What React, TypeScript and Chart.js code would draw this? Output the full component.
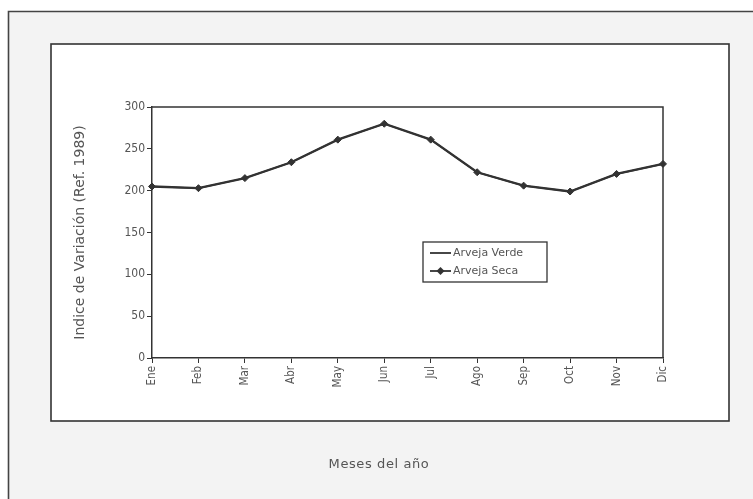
import React, { useEffect, useRef } from "react";
import { Chart, registerables } from "chart.js";

Chart.register(...registerables);

const months = ["Ene", "Feb", "Mar", "Abr", "May", "Jun", "Jul", "Ago", "Sep", "Oct", "Nov", "Dic"];
const arvejaVerde = [205, 203, 215, 234, 261, 280, 261, 222, 206, 199, 220, 232];
const arvejaSeca = [205, 203, 215, 234, 261, 280, 261, 222, 206, 199, 220, 232];
const yTicks = [0, 50, 100, 150, 200, 250, 300];
const xTitle = "Meses del año";
const yTitle = "Indice de Variación (Ref. 1989)";

const INK = "#333333";
const TEXT = "#555555";
const FONT = "'DejaVu Sans', sans-serif";
const FONT_C = "'DejaVu Sans Condensed', 'DejaVu Sans', sans-serif";

const framePlugin = {
  id: "frames",
  beforeDraw(chart: any) {
    const ctx = chart.ctx;
    const { width, height } = chart;
    ctx.save();
    ctx.fillStyle = "#ffffff";
    ctx.fillRect(0, 0, width, height);
    ctx.fillStyle = "#f3f3f3";
    ctx.fillRect(8, 11, width - 8, height - 11);
    ctx.strokeStyle = "#444444";
    ctx.lineWidth = 1.6;
    ctx.beginPath();
    ctx.moveTo(8.5, height);
    ctx.lineTo(8.5, 11.5);
    ctx.lineTo(width, 11.5);
    ctx.stroke();
    ctx.fillStyle = "#ffffff";
    ctx.fillRect(51, 44, 678, 377);
    ctx.strokeStyle = INK;
    ctx.lineWidth = 1.6;
    ctx.strokeRect(51, 44, 678, 377);
    ctx.restore();
  },
  afterDraw(chart: any) {
    const ctx = chart.ctx;
    const a = chart.chartArea;
    ctx.save();
    ctx.strokeStyle = INK;
    ctx.lineWidth = 1.5;
    ctx.beginPath();
    ctx.moveTo(a.left, a.top);
    ctx.lineTo(a.right, a.top);
    ctx.lineTo(a.right, a.bottom);
    ctx.stroke();

    // x axis title
    ctx.fillStyle = TEXT;
    ctx.font = `13px ${FONT}`;
    (ctx as any).letterSpacing = "0.6px";
    ctx.textAlign = "center";
    ctx.textBaseline = "middle";
    ctx.fillText(xTitle, 379, 465);
    (ctx as any).letterSpacing = "0px";

    // legend box
    const lx = 423, ly = 242, lw = 124, lh = 40;
    ctx.fillStyle = "#ffffff";
    ctx.fillRect(lx, ly, lw, lh);
    ctx.strokeStyle = INK;
    ctx.lineWidth = 1.3;
    ctx.strokeRect(lx, ly, lw, lh);
    const ds = chart.data.datasets;
    const rows = [253, 271];
    ds.forEach((d: any, i: number) => {
      const y = rows[i];
      ctx.strokeStyle = INK;
      ctx.lineWidth = 1.8;
      ctx.beginPath();
      ctx.moveTo(430, y);
      ctx.lineTo(451, y);
      ctx.stroke();
      if (d.pointRadius > 0) {
        ctx.fillStyle = INK;
        ctx.beginPath();
        ctx.moveTo(440.5, y - 4);
        ctx.lineTo(444.5, y);
        ctx.lineTo(440.5, y + 4);
        ctx.lineTo(436.5, y);
        ctx.closePath();
        ctx.fill();
      }
      ctx.fillStyle = TEXT;
      ctx.font = `11px ${FONT}`;
      ctx.textAlign = "left";
      ctx.textBaseline = "middle";
      ctx.fillText(d.label, 453, y);
    });
    ctx.restore();
  },
};

export default function App() {
  const ref = useRef<HTMLCanvasElement | null>(null);
  useEffect(() => {
    document.body.style.margin = "0";
    if (!ref.current) return;
    const chart = new Chart(ref.current, {
      type: "line",
      data: {
        labels: months,
        datasets: [
          {
            label: "Arveja Verde",
            data: arvejaVerde,
            borderColor: INK,
            borderWidth: 1.5,
            pointRadius: 0,
            tension: 0,
          },
          {
            label: "Arveja Seca",
            data: arvejaSeca,
            borderColor: INK,
            backgroundColor: INK,
            borderWidth: 2.3,
            pointStyle: "rectRot",
            pointRadius: 3.5,
            pointBorderWidth: 1,
            tension: 0,
          },
        ],
      },
      options: {
        responsive: false,
        animation: false,
        layout: { padding: { left: 66, top: 107, right: 90, bottom: 20 } },
        plugins: {
          legend: { display: false },
          tooltip: { enabled: false },
        },
        scales: {
          x: {
            offset: false,
            afterFit: (s: any) => {
              s.height = 121;
            },
            grid: {
              display: true,
              drawOnChartArea: false,
              drawTicks: true,
              tickLength: 5,
              color: INK,
            },
            border: { display: true, color: INK, width: 1.5 },
            ticks: {
              autoSkip: false,
              minRotation: 90,
              maxRotation: 90,
              padding: 3,
              color: TEXT,
              font: { family: FONT_C, size: 11.5 },
            },
          },
          y: {
            min: 0,
            max: 300,
            afterFit: (s: any) => {
              s.width = 86;
            },
            afterBuildTicks: (s: any) => {
              s.ticks = yTicks.map((v) => ({ value: v }));
            },
            grid: {
              display: true,
              drawOnChartArea: false,
              drawTicks: true,
              tickLength: 5,
              color: INK,
            },
            border: { display: true, color: INK, width: 1.5 },
            ticks: {
              padding: 2,
              color: TEXT,
              font: { family: FONT_C, size: 12 },
            },
            title: {
              display: true,
              text: yTitle,
              color: TEXT,
              padding: { top: 6, bottom: 0 },
              font: { family: FONT, size: 14 },
            },
          },
        },
      },
      plugins: [framePlugin],
    });
    return () => chart.destroy();
  }, []);
  return (
    <div style={{ width: 753, height: 499 }}>
      <canvas ref={ref} width={753} height={499} />
    </div>
  );
}
